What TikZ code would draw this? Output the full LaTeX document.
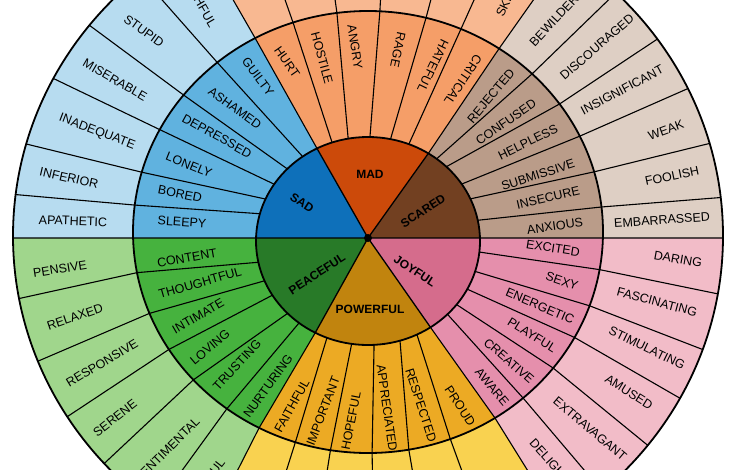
\documentclass[tikz,border=0pt]{standalone}
\usepackage{fontspec}
\setmainfont{Liberation Sans}
\usetikzlibrary{calc}
\definecolor{sadI}{RGB}{14,112,186}
\definecolor{sadM}{RGB}{96,178,223}
\definecolor{sadO}{RGB}{183,220,240}
\definecolor{madI}{RGB}{204,74,10}
\definecolor{madM}{RGB}{245,158,104}
\definecolor{madO}{RGB}{248,184,145}
\definecolor{scaI}{RGB}{114,64,33}
\definecolor{scaM}{RGB}{186,156,137}
\definecolor{scaO}{RGB}{222,207,196}
\definecolor{joyI}{RGB}{213,108,140}
\definecolor{joyM}{RGB}{229,143,172}
\definecolor{joyO}{RGB}{242,188,200}
\definecolor{powI}{RGB}{193,132,14}
\definecolor{powM}{RGB}{236,170,36}
\definecolor{powO}{RGB}{249,210,80}
\definecolor{peaI}{RGB}{40,122,40}
\definecolor{peaM}{RGB}{70,178,62}
\definecolor{peaO}{RGB}{160,214,140}
\tikzset{
  cellline/.style ={draw=black, line width=1.1pt},
  spoke/.style    ={draw=black, line width=1.3pt},
  rim/.style      ={draw=black, line width=1.8pt},
  word/.style     ={font=\fontsize{12.5}{14}\selectfont, inner sep=0pt},
  core/.style     ={font=\bfseries\fontsize{12}{14}\selectfont, inner sep=0pt},
}

\begin{document}
\begin{tikzpicture}[x=1pt, y=-1pt]
  \useasboundingbox (0,0) rectangle (731,469);
  \clip (0,0) rectangle (731,469);
  \fill[white] (0,0) rectangle (731,469);

  \coordinate (hub) at (368,238);
  \coordinate (ci) at (368,241);
  \coordinate (cm) at (368,232);
  \coordinate (co) at (368,236);

  % cell borders: angle on inner / middle / outer ring
  \foreach \k/\ai/\am/\ao in {
      0/1.65/358.44/359.66, 1/11.5/6.5/6.5, 2/23.9/15.8/15.8, 3/33.2/25.7/25.7,
      4/45.6/35.4/35.4, 5/52.2/45.7/45.7, 6/57.4/56.1/56.1, 7/68.6/66.7/66.7,
      8/78.4/75.7/75.7, 9/89/87.1/87.1, 10/100.2/97.6/97.6, 11/108.7/108.6/108.6,
      12/117.1/118.7/118.7, 13/125.7/129.9/129.9, 14/136.1/141.7/141.7,
      15/146.9/152.4/152.4, 16/156.2/164.3/164.3, 17/164.8/173/173,
      18/178.35/181.56/180.34, 19/191.8/190.6/190.6, 20/202.5/201.6/201.6,
      21/211.4/212.1/212.1, 22/224.1/222/222, 23/232/233.1/233.1,
      24/241.9/242.4/242.4, 25/248.5/252/252, 26/261.6/260.8/260.8,
      27/273.1/271/271, 28/286.6/280/280, 29/295.9/290.5/290.5,
      30/303.9/302.7/302.7, 31/315.2/311.3/311.3, 32/322.3/322/322,
      33/332.4/331.5/331.5, 34/343/340.5/340.5, 35/353.9/350.2/350.2}{
    \coordinate (b\k-i) at ($(ci)+(-\ai:112 and 104)$);
    \coordinate (b\k-m) at ($(cm)+(-\am:235 and 221)$);
    \coordinate (b\k-o) at ($(co)+(-\ao:355 and 340)$);
    \coordinate (b\k-f) at ($(co)+(-\ao:700 and 700)$);
  }

  % six families, three shades each
  \foreach \s/\e/\cI/\cM/\cO in {0/6/scaI/scaM/scaO, 6/12/madI/madM/madO,
      12/18/sadI/sadM/sadO, 18/24/peaI/peaM/peaO, 24/30/powI/powM/powO,
      30/0/joyI/joyM/joyO}{
    \begin{scope}
      \clip (co) ellipse [x radius=355pt, y radius=340pt];
      \fill[\cO] (hub) -- (b\s-i) -- (b\s-m) -- (b\s-o) -- (b\s-f) -- (b\e-f)
        -- (b\e-o) -- (b\e-m) -- (b\e-i) -- cycle;
    \end{scope}
    \begin{scope}
      \clip (cm) ellipse [x radius=235pt, y radius=221pt];
      \fill[\cM] (hub) -- (b\s-i) -- (b\s-m) -- (b\s-o) -- (b\s-f) -- (b\e-f)
        -- (b\e-o) -- (b\e-m) -- (b\e-i) -- cycle;
    \end{scope}
    \begin{scope}
      \clip (ci) ellipse [x radius=112pt, y radius=104pt];
      \fill[\cI] (hub) -- (b\s-i) -- (b\s-m) -- (b\s-o) -- (b\s-f) -- (b\e-f)
        -- (b\e-o) -- (b\e-m) -- (b\e-i) -- cycle;
    \end{scope}
  }

  \foreach \k in {0,...,35}
    \draw[cellline] (b\k-i) -- (b\k-m) -- (b\k-o);
  \foreach \k in {0,6,...,30}
    \draw[spoke] (hub) -- (b\k-i);

  \draw[rim] (co) ellipse [x radius=355pt, y radius=340pt];
  \draw[rim] (cm) ellipse [x radius=235pt, y radius=221pt];
  \draw[rim] (ci) ellipse [x radius=112pt, y radius=104pt];
  \fill[black] (hub) circle [radius=4pt];

  % core feelings
  \node[core, rotate=-33] (sad) at (302,203) {SAD};
  \node[core] (mad) at (370,174) {MAD};
  \node[core, rotate=33] (scared) at (423,211) {SCARED};
  \node[core, rotate=33] (peaceful) at (317,274) {PEACEFUL};
  \node[core] (powerful) at (370,309) {POWERFUL};
  \node[core, rotate=-33] (joyful) at (415,271) {JOYFUL};

  % ring words
  \foreach \t/\x/\y/\r in {
      GUILTY/258/77/-53, ASHAMED/235/108/-36, DEPRESSED/217/136/-29,
      LONELY/189/165/-22, BORED/180/194/-11, SLEEPY/182/222/-4,
      BASHFUL/199/1/-60, STUPID/144/31/-36, MISERABLE/115/80/-30,
      INADEQUATE/97/132/-21, INFERIOR/69/178/-13, APATHETIC/73/221/-2,
      HURT/287/62/-55, HOSTILE/322/58/-75, ANGRY/355/47/-81,
      RAGE/398/50/-102, HATEFUL/433/66/-116, CRITICAL/463/80/-124,
      SKEPTICAL/514/-15/65,
      REJECTED/491/96/50, CONFUSED/506/122/35, HELPLESS/528/142/26,
      SUBMISSIVE/538/175/18, INSECURE/548/198/13, ANXIOUS/555/226/8,
      BEWILDERED/560/14/47, DISCOURAGED/597/47/41, INSIGNIFICANT/622/90/28,
      WEAK/666/130/20, FOOLISH/672/176/12, EMBARRASSED/662/220/4,
      EXCITED/553/248/-9, SEXY/562/281/-19, ENERGETIC/540/306/-23,
      PLAYFUL/532/335/-32, CREATIVE/509/361/-41, AWARE/492/387/-50,
      DARING/678/259/-10, FASCINATING/657/302/-15, STIMULATING/647/348/-26,
      AMUSED/629/392/-32, EXTRAVAGANT/590/429/-40, DELIGHTFUL/558/470/-48,
      FAITHFUL/292/406/61, IMPORTANT/323/411/69, HOPEFUL/351/421/79,
      APPRECIATED/387/408/-82, RESPECTED/421/405/-72, PROUD/460/406/-57,
      CONTENT/187/258/10, THOUGHTFUL/200/283/16, INTIMATE/198/316/30,
      LOVING/210/347/40, TRUSTING/237/365/47, NURTURING/268/386/54,
      PENSIVE/60/269/9, RELAXED/75/317/19, RESPONSIVE/102/363/31,
      SERENE/115/418/38, SENTIMENTAL/167/450/45, THANKFUL/202/486/52}
    \node[word, rotate=\r] (\t) at (\x,\y) {\t};
\end{tikzpicture}
\end{document}
